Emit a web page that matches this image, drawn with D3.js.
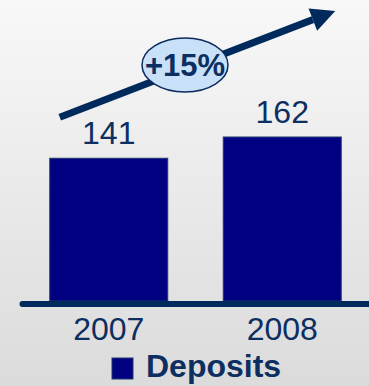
<!DOCTYPE html>
<html>
<head>
<meta charset="utf-8">
<script src="https://cdn.jsdelivr.net/npm/d3@7"></script>
<style>
  body { margin: 0; }
  text { font-family: "Liberation Sans", Arial, sans-serif; }
</style>
</head>
<body>
<div id="chart"></div>
<script>
const categories = ['2007', '2008'];
const deposits = [141, 162];
const seriesName = 'Deposits';

const width = 369;
const height = 386;
const navy = '#000080';
const ink = '#0c2e60';

const data = categories.map((c, i) => ({year: c, value: deposits[i]}));

const svg = d3.select('#chart').append('svg')
    .attr('width', width)
    .attr('height', height);

const grad = svg.append('defs').append('linearGradient')
    .attr('id', 'bg')
    .attr('x1', 0).attr('y1', 0).attr('x2', 0).attr('y2', 1);
grad.append('stop').attr('offset', '0%').attr('stop-color', '#f8f8f8');
grad.append('stop').attr('offset', '100%').attr('stop-color', '#dbdbdb');

svg.append('rect')
   .attr('width', width)
   .attr('height', height)
   .attr('fill', 'url(#bg)');

const xScale = d3.scaleBand()
    .domain(categories)
    .range([22, width])
    .paddingInner(0.32)
    .paddingOuter(0.16);

const yScale = d3.scaleLinear()
    .domain([0, 162])
    .range([301, 137]);

// bars
svg.selectAll('rect.bar')
   .data(data)
   .enter()
   .append('rect')
   .attr('class', 'bar')
   .attr('x', d => xScale(d.year))
   .attr('y', d => yScale(d.value))
   .attr('width', xScale.bandwidth())
   .attr('height', d => yScale(0) - yScale(d.value))
   .attr('fill', navy)
   .attr('stroke', '#1d3a6b')
   .attr('stroke-width', 1);

// value labels
svg.selectAll('text.val')
   .data(data)
   .enter()
   .append('text')
   .attr('class', 'val')
   .attr('x', d => xScale(d.year) + xScale.bandwidth() / 2)
   .attr('y', d => yScale(d.value) - 14)
   .attr('text-anchor', 'middle')
   .attr('font-size', 32)
   .attr('fill', ink)
   .text(d => d.value);

// x axis
const xAxis = d3.axisBottom(xScale).tickSize(0).tickSizeOuter(0).tickPadding(14);
const gx = svg.append('g')
   .attr('transform', `translate(0, ${yScale(0) + 2.5})`)
   .call(xAxis);
gx.select('.domain')
  .attr('stroke', '#002a5c')
  .attr('stroke-width', 6)
  .attr('stroke-linecap', 'round');
gx.selectAll('.tick text')
  .attr('font-size', 32)
  .attr('font-family', '"Liberation Sans", Arial, sans-serif')
  .attr('fill', ink);

// growth arrow
const x0 = xScale('2007') + 10, y0 = yScale(deposits[0]) - 41;
const x1 = xScale('2008') + xScale.bandwidth() - 6, y1 = yScale(deposits[1]) - 126;
const ang = Math.atan2(y1 - y0, x1 - x0);
const headLen = 24, headHalf = 12;
const bx = x1 - headLen * Math.cos(ang), by = y1 - headLen * Math.sin(ang);

svg.append('line')
   .attr('x1', x0).attr('y1', y0)
   .attr('x2', bx).attr('y2', by)
   .attr('stroke', '#002a5c')
   .attr('stroke-width', 7);

svg.append('polygon')
   .attr('points', [
     [x1, y1],
     [bx + headHalf * Math.sin(ang), by - headHalf * Math.cos(ang)],
     [bx - headHalf * Math.sin(ang), by + headHalf * Math.cos(ang)]
   ].map(p => p.join(',')).join(' '))
   .attr('fill', '#002a5c');

// growth bubble
const growth = d3.format('+.0%')(deposits[1] / deposits[0] - 1);
const ex = 185, ey = y0 + (ex - x0) * Math.tan(ang) - 4;
svg.append('ellipse')
   .attr('cx', ex).attr('cy', ey)
   .attr('rx', 43).attr('ry', 27)
   .attr('fill', '#c8e0f8')
   .attr('stroke', '#0b2c5c')
   .attr('stroke-width', 1.5);
svg.append('text')
   .attr('x', ex)
   .attr('y', ey + 11)
   .attr('text-anchor', 'middle')
   .attr('font-size', 31)
   .attr('font-weight', 'bold')
   .attr('fill', ink)
   .text(growth);

// legend
const lg = svg.append('g').attr('transform', 'translate(112, 358)');
lg.append('rect')
  .attr('width', 21).attr('height', 21)
  .attr('fill', navy)
  .attr('stroke', '#1d3a6b');
lg.append('text')
  .attr('x', 34)
  .attr('y', 19)
  .attr('font-size', 32)
  .attr('font-weight', 'bold')
  .attr('fill', ink)
  .text(seriesName);
</script>
</body>
</html>
